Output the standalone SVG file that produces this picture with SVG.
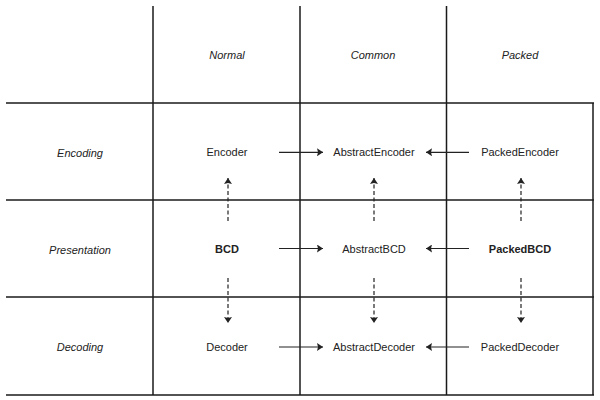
<svg xmlns="http://www.w3.org/2000/svg" width="600" height="400" viewBox="0 0 600 400">
<style>
.grid{stroke:#1a1a1a;stroke-width:1.5;fill:none}
.t{font-family:"Liberation Sans",Arial,sans-serif;font-size:11px;fill:#222;text-anchor:middle}
.i{font-style:italic}
.b{font-weight:bold}
.solid{stroke:#222;stroke-width:1.2;fill:none}
.dash{stroke:#222;stroke-width:1.2;fill:none;stroke-dasharray:4,2.5}
</style>
<defs>
<marker id="ah" viewBox="0 0 6 8" refX="6" refY="4" markerWidth="6" markerHeight="8" markerUnits="userSpaceOnUse" orient="auto">
<path d="M0,0 L6,4 L0,8 L1,4 Z" fill="#222"/>
</marker>
</defs>
<rect width="600" height="400" fill="#fff"/>
<g id="grid">
<line class="grid" x1="153" y1="6" x2="153" y2="395"/>
<line class="grid" x1="300" y1="6" x2="300" y2="395"/>
<line class="grid" x1="446.5" y1="6" x2="446.5" y2="395"/>
<line class="grid" x1="593" y1="103" x2="593" y2="395"/>
<line class="grid" x1="6" y1="103" x2="594" y2="103"/>
<line class="grid" x1="6" y1="200" x2="594" y2="200"/>
<line class="grid" x1="6" y1="297" x2="594" y2="297"/>
<line class="grid" x1="6" y1="395" x2="594" y2="395"/>
</g>
<g id="headers">
<text class="t i" x="227" y="59">Normal</text>
<text class="t i" x="373" y="59">Common</text>
<text class="t i" x="520" y="59">Packed</text>
<text class="t i" x="80" y="157">Encoding</text>
<text class="t i" x="80" y="254">Presentation</text>
<text class="t i" x="80" y="351">Decoding</text>
</g>
<g id="Encoder"><text class="t" x="227" y="156">Encoder</text></g>
<g id="AbstractEncoder"><text class="t" x="374" y="156">AbstractEncoder</text></g>
<g id="PackedEncoder"><text class="t" x="520" y="156">PackedEncoder</text></g>
<g id="BCD"><text class="t b" x="227" y="253">BCD</text></g>
<g id="AbstractBCD"><text class="t" x="374" y="253">AbstractBCD</text></g>
<g id="PackedBCD"><text class="t b" x="520" y="253">PackedBCD</text></g>
<g id="Decoder"><text class="t" x="227" y="351">Decoder</text></g>
<g id="AbstractDecoder"><text class="t" x="374" y="351">AbstractDecoder</text></g>
<g id="PackedDecoder"><text class="t" x="520" y="351">PackedDecoder</text></g>
<g id="connectors">
<line class="solid" x1="279" y1="152.3" x2="323" y2="152.3" marker-end="url(#ah)"/>
<line class="solid" x1="279" y1="248.5" x2="323" y2="248.5" marker-end="url(#ah)"/>
<line class="solid" x1="279" y1="347" x2="323" y2="347" marker-end="url(#ah)"/>
<line class="solid" x1="469" y1="152.3" x2="426" y2="152.3" marker-end="url(#ah)"/>
<line class="solid" x1="469" y1="248.5" x2="426" y2="248.5" marker-end="url(#ah)"/>
<line class="solid" x1="469" y1="347" x2="426" y2="347" marker-end="url(#ah)"/>
<line class="dash" x1="228" y1="221" x2="228" y2="178" marker-end="url(#ah)"/>
<line class="dash" x1="374" y1="221" x2="374" y2="178" marker-end="url(#ah)"/>
<line class="dash" x1="521" y1="221" x2="521" y2="178" marker-end="url(#ah)"/>
<line class="dash" x1="228" y1="278" x2="228" y2="323" marker-end="url(#ah)"/>
<line class="dash" x1="374" y1="278" x2="374" y2="323" marker-end="url(#ah)"/>
<line class="dash" x1="521" y1="278" x2="521" y2="323" marker-end="url(#ah)"/>
</g>
</svg>
